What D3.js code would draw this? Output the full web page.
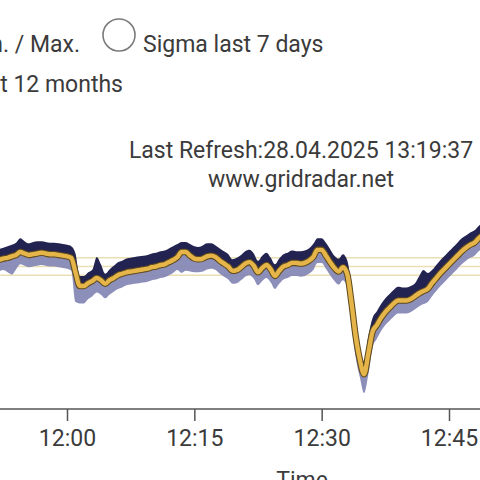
<!DOCTYPE html>
<html><head><meta charset="utf-8">
<script src="https://cdn.jsdelivr.net/npm/d3@7"></script>
<style>html,body{margin:0;padding:0;background:#fff;overflow:hidden}svg{display:block}</style>
</head><body>
<script>
const times = [
"11:52:00","11:52:30","11:53:00","11:53:30","11:54:00","11:54:30","11:55:00","11:55:30","11:56:00","11:56:30",
"11:57:00","11:57:30","11:58:00","11:58:30","11:59:00","11:59:30","12:00:00","12:00:30","12:01:00","12:01:30",
"12:02:00","12:02:30","12:03:00","12:03:30","12:04:00","12:04:30","12:05:00","12:05:30","12:06:00","12:06:30",
"12:07:00","12:07:30","12:08:00","12:08:30","12:09:00","12:09:30","12:10:00","12:10:30","12:11:00","12:11:30",
"12:12:00","12:12:30","12:13:00","12:13:30","12:14:00","12:14:30","12:15:00","12:15:30","12:16:00","12:16:30",
"12:17:00","12:17:30","12:18:00","12:18:30","12:19:00","12:19:30","12:20:00","12:20:30","12:21:00","12:21:30",
"12:22:00","12:22:30","12:23:00","12:23:30","12:24:00","12:24:30","12:25:00","12:25:30","12:26:00","12:26:30",
"12:27:00","12:27:30","12:28:00","12:28:30","12:29:00","12:29:30","12:30:00","12:30:30","12:31:00","12:31:30",
"12:32:00","12:32:30","12:33:00","12:33:30","12:34:00","12:34:30","12:35:00","12:35:30","12:36:00","12:36:30",
"12:37:00","12:37:30","12:38:00","12:38:30","12:39:00","12:39:30","12:40:00","12:40:30","12:41:00","12:41:30",
"12:42:00","12:42:30","12:43:00","12:43:30","12:44:00","12:44:30","12:45:00","12:45:30","12:46:00","12:46:30",
"12:47:00","12:47:30","12:48:00","12:48:30","12:49:00"];

const freqMean = [
50.009,50.011,50.012,50.014,50.016,50.020,50.018,50.016,50.017,50.018,
50.019,50.018,50.017,50.017,50.016,50.015,50.014,50.012,49.992,49.973,
49.973,49.977,49.980,49.984,49.981,49.976,49.981,49.984,49.988,49.990,
49.992,49.993,49.994,49.995,49.996,49.997,49.999,50.000,50.002,50.003,
50.006,50.009,50.013,50.020,50.020,50.015,50.011,50.010,50.011,50.014,
50.015,50.013,50.008,50.004,50.000,49.994,49.995,49.999,50.004,50.006,
50.001,49.992,49.998,50.002,49.996,49.987,49.994,50.000,50.002,50.005,
50.005,50.004,50.005,50.008,50.013,50.023,50.023,50.015,50.006,49.998,
49.993,49.999,49.990,49.951,49.904,49.871,49.851,49.880,49.910,49.919,
49.929,49.937,49.943,49.949,49.953,49.953,49.953,49.955,49.959,49.963,
49.966,49.969,49.977,49.984,49.991,49.997,50.003,50.009,50.015,50.021,
50.026,50.030,50.033,50.039,50.044];

const freqMax = [
50.024,50.026,50.028,50.030,50.033,50.039,50.035,50.032,50.034,50.035,
50.035,50.034,50.033,50.033,50.032,50.031,50.030,50.028,50.018,49.987,
49.987,49.992,49.996,50.013,50.003,49.990,49.996,50.001,50.006,50.008,
50.011,50.012,50.013,50.014,50.015,50.016,50.018,50.019,50.021,50.022,
50.025,50.028,50.031,50.034,50.034,50.031,50.028,50.027,50.029,50.032,
50.032,50.029,50.025,50.021,50.017,50.010,50.012,50.016,50.021,50.023,
50.018,50.008,50.015,50.019,50.012,50.003,50.011,50.017,50.019,50.022,
50.021,50.021,50.022,50.025,50.031,50.039,50.039,50.033,50.024,50.015,
50.011,50.017,50.009,49.975,49.923,49.885,49.869,49.904,49.929,49.938,
49.948,49.956,49.962,49.968,49.972,49.971,49.971,49.973,49.977,49.987,
49.995,49.991,49.995,50.002,50.009,50.015,50.021,50.027,50.033,50.039,
50.043,50.047,50.050,50.056,50.061];

const freqMin = [
49.993,49.995,49.992,49.989,49.996,50.003,50.001,49.999,50.000,50.001,
50.002,50.001,50.000,50.000,49.999,49.998,49.997,49.994,49.951,49.949,
49.949,49.955,49.959,49.964,49.961,49.956,49.961,49.965,49.969,49.971,
49.974,49.975,49.976,49.977,49.978,49.979,49.981,49.982,49.984,49.985,
49.988,49.991,49.995,49.991,49.994,49.993,49.992,49.992,49.993,49.996,
49.997,49.995,49.990,49.986,49.982,49.976,49.977,49.981,49.986,49.988,
49.983,49.974,49.980,49.984,49.978,49.969,49.976,49.982,49.984,49.987,
49.987,49.986,49.987,49.990,49.995,50.005,50.005,49.997,49.988,49.980,
49.975,49.981,49.972,49.922,49.875,49.847,49.825,49.851,49.888,49.900,
49.911,49.919,49.925,49.931,49.935,49.935,49.935,49.937,49.941,49.945,
49.948,49.951,49.959,49.966,49.973,49.979,49.985,49.991,49.997,50.003,
50.008,50.012,50.015,50.021,50.026];

const sigmaLines = [50.012, 50.000, 49.988];
const tickLabels = ["12:00","12:15","12:30","12:45"];

const W = 480, H = 480;
const parse = d3.timeParse("%H:%M:%S");
const parseTick = d3.timeParse("%H:%M");
const data = times.map((t,i)=>({t:parse(t), mean:freqMean[i], max:freqMax[i], min:freqMin[i]}));

const svg = d3.select("body").append("svg").attr("width",W).attr("height",H)
  .style("font-family","Roboto, 'Noto Sans', sans-serif");

const x = d3.scaleTime().domain([parseTick("12:00"), parseTick("12:45")]).range([67, 449]);
const y = d3.scaleLinear().domain([49.85, 50.0]).range([375, 266.5]);

const txt = "#3b3b3b";
// legend
svg.append("text").attr("x",80).attr("y",52).attr("text-anchor","end").attr("font-size",23).attr("fill",txt).text("Min. / Max.");
svg.append("circle").attr("cx",119).attr("cy",35).attr("r",16).attr("fill","none").attr("stroke","#7a7a7a").attr("stroke-width",1.6);
svg.append("text").attr("x",143).attr("y",52).attr("font-size",23).attr("fill",txt).text("Sigma last 7 days");
svg.append("text").attr("x",123).attr("y",92).attr("text-anchor","end").attr("font-size",23).attr("fill",txt).text("Mean last 12 months");

// refresh
svg.append("text").attr("x",301).attr("y",158).attr("text-anchor","middle").attr("font-size",23).attr("fill",txt).text("Last Refresh:28.04.2025 13:19:37");
svg.append("text").attr("x",301).attr("y",187).attr("text-anchor","middle").attr("font-size",23).attr("fill",txt).text("www.gridradar.net");

// sigma lines
svg.selectAll("line.sig").data(sigmaLines).enter().append("line")
  .attr("x1",0).attr("x2",W).attr("y1",d=>y(d)).attr("y2",d=>y(d))
  .attr("stroke","#eadfb4").attr("stroke-width",1.6);

const curve = d3.curveMonotoneX;
const areaMin = d3.area().x(d=>x(d.t)).y0(d=>y(d.min)).y1(d=>y(d.mean)).curve(curve);
const areaMax = d3.area().x(d=>x(d.t)).y0(d=>y(d.mean)).y1(d=>y(d.max)).curve(curve);
const line = d3.line().x(d=>x(d.t)).y(d=>y(d.mean)).curve(curve);

svg.append("path").datum(data).attr("d",areaMin).attr("fill","#8183b4").attr("opacity",0.9);
svg.append("path").datum(data).attr("d",areaMax).attr("fill","#222350");
svg.append("path").datum(data).attr("d",line).attr("fill","none").attr("stroke","#5e4b1e").attr("stroke-width",6.5).attr("stroke-linejoin","round");
svg.append("path").datum(data).attr("d",line).attr("fill","none").attr("stroke","#e6b54a").attr("stroke-width",4.4).attr("stroke-linejoin","round");

// axis
const axis = d3.axisBottom(x).tickValues(tickLabels.map(parseTick)).tickFormat(d3.timeFormat("%H:%M")).tickSize(12).tickSizeOuter(0);
const gx = svg.append("g").attr("transform","translate(0,409)").call(axis);
gx.select(".domain").remove();
gx.append("line").attr("x1",0).attr("x2",W).attr("y1",0).attr("y2",0).attr("stroke","#555").attr("stroke-width",1.5);
gx.selectAll(".tick line").attr("stroke","#555").attr("stroke-width",1.5);
gx.selectAll(".tick text").attr("font-size",23).attr("fill",txt).attr("dy",0).attr("y",37).style("font-family","Roboto, sans-serif");

svg.append("text").attr("x",302).attr("y",488).attr("text-anchor","middle").attr("font-size",23).attr("fill",txt).text("Time");
</script>
</body></html>
